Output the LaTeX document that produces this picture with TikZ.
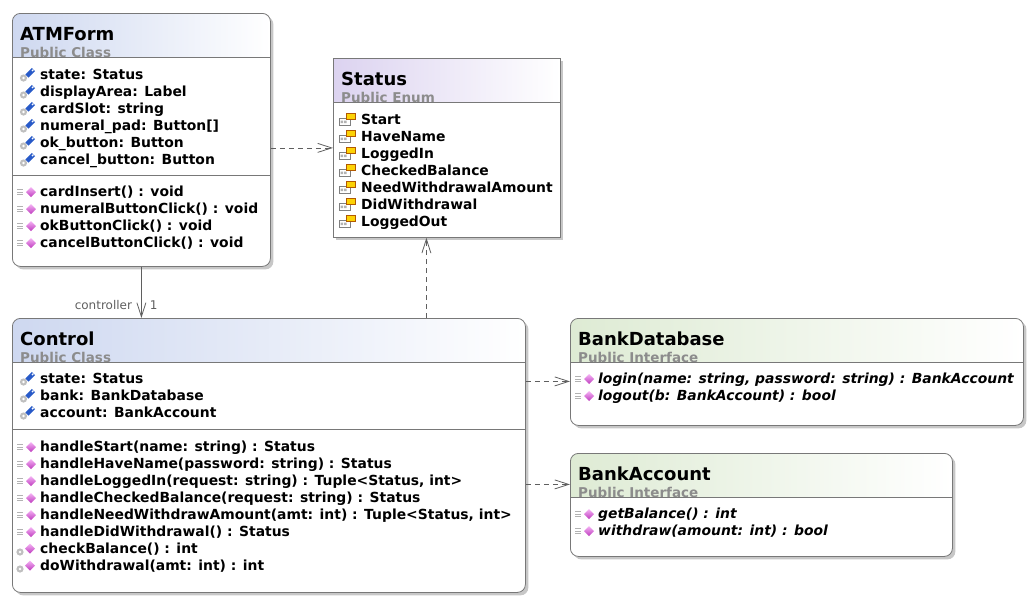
\documentclass[tikz,border=0pt]{standalone}
\usepackage{xcolor}
\usepackage{fontspec}
\setmainfont{DejaVu Sans}
\usepackage{tikz}
\usetikzlibrary{arrows.meta,positioning,shadows}

\definecolor{boxline}{RGB}{120,120,120}
\definecolor{linkgray}{RGB}{95,95,95}
\definecolor{kindgray}{RGB}{140,140,140}
\definecolor{clshead}{RGB}{206,216,240}
\definecolor{enumhead}{RGB}{220,211,240}
\definecolor{ifhead}{RGB}{222,235,212}
\definecolor{fieldblue}{RGB}{40,90,200}
\definecolor{methpink}{RGB}{190,60,190}
\definecolor{methlight}{RGB}{245,180,245}

\newcommand{\titlefont}{\fontsize{18}{20}\selectfont\bfseries}
\newcommand{\kindfont}{\fontsize{13.5}{16}\selectfont\bfseries}
\newcommand{\memberfont}{\fontsize{13.9}{17}\selectfont\bfseries}
\newcommand{\linkfont}{\fontsize{12}{14}\selectfont}

\tikzset{
  fieldicon/.pic={
    \fill[gray!50] (-4.5,3) circle (3.6);
    \fill[white] (-4.5,3) circle (1.3);
    \draw[line width=4.4pt, fieldblue] (-1,1) -- (5.5,-5.5);
    \draw[line width=1.4pt, white] (4,-4) -- (5.5,-5.5);
  },
  methodicon/.pic={
    \foreach \d in {-2.4,0,2.4}
      \draw[gray!60, line width=0.9pt] (-11,\d) -- (-5,\d);
    \shade[top color=methlight, bottom color=methpink] (3,-5) -- (8,0) -- (3,5) -- (-2,0) -- cycle;
  },
  privicon/.pic={
    \fill[gray!50] (-8,3) circle (3.6);
    \fill[white] (-8,3) circle (1.3);
    \shade[top color=methlight, bottom color=methpink] (2,-5.5) -- (7,-0.5) -- (2,4.5) -- (-3,-0.5) -- cycle;
  },
  enumicon/.pic={
    \draw[gray, fill=white, line width=0.7pt] (-10,-1) rectangle (1.5,5.5);
    \fill[gray!60] (-8.5,1) rectangle (-6,3.5) (-5,1) rectangle (-2.5,3.5);
    \draw[orange!70!black, fill=yellow!70!orange, line width=0.7pt] (-2.5,-6) rectangle (6.5,0);
  }
}

\begin{document}
\begin{tikzpicture}[x=1pt, y=-1pt,
    classbox/.style={draw=boxline, line width=0.8pt, fill=white, rounded corners=8pt,
      anchor=north west, inner sep=0pt,
      drop shadow={shadow xshift=3pt, shadow yshift=-3pt, opacity=0.22, fill=black},
      path picture={\fill[sharp corners, left color=#1, right color=white]
        (path picture bounding box.north west) rectangle
        ([yshift=-44pt]path picture bounding box.north east);}},
    enumbox/.style={classbox=#1, sharp corners},
    ctitle/.style={anchor=base west, inner sep=0pt, font=\titlefont},
    ckind/.style={anchor=base west, inner sep=0pt, font=\kindfont, text=kindgray},
    member/.style={anchor=base west, inner sep=0pt, font=\memberfont},
    abstract/.style={member, font=\memberfont\itshape},
    sepline/.style={draw=boxline, line width=0.8pt},
    dep/.style={->, >={Straight Barb[length=14pt, width=9pt]}, draw=linkgray,
      line width=0.8pt, dash pattern=on 5pt off 4pt},
    assoc/.style={->, >={Straight Barb[length=14pt, width=9pt]}, draw=linkgray, line width=0.8pt},
    linklabel/.style={font=\linkfont, text=linkgray, inner sep=1pt}]

    \useasboundingbox (0,0) rectangle (1035,603);

    \node[classbox=clshead, minimum width=258pt, minimum height=253pt] (atmform) at (12,13) {};
    \node[enumbox=enumhead, minimum width=227pt, minimum height=179pt] (status) at (333,58) {};
    \node[classbox=clshead, minimum width=513pt, minimum height=274pt] (control) at (12,318) {};
    \node[classbox=ifhead, minimum width=453pt, minimum height=107pt] (bankdb) at (570,318) {};
    \node[classbox=ifhead, minimum width=382pt, minimum height=103pt] (bankacc) at (570,453) {};

    \node[ctitle] (atmform-title) at (20,40.5) {ATMForm};
    \node[ckind] (atmform-kind) at (20,57) {Public Class};
    \draw[sepline] ([yshift=-44pt]atmform.north west) -- ([yshift=-44pt]atmform.north east);
    \draw[sepline] ([yshift=-162pt]atmform.north west) -- ([yshift=-162pt]atmform.north east);
    \foreach \txt [count=\i from 0] in {state: Status, displayArea: Label, cardSlot: string,
        numeral\_pad: Button[], ok\_button: Button, cancel\_button: Button}{
      \pic at (28,75+17*\i) {fieldicon};
      \node[member] (atmform-f\i) at (40,79+17*\i) {\txt};
    }
    \foreach \txt [count=\i from 0] in {cardInsert() : void, numeralButtonClick() : void,
        okButtonClick() : void, cancelButtonClick() : void}{
      \pic at (28,192+17*\i) {methodicon};
      \node[member] (atmform-m\i) at (40,196+17*\i) {\txt};
    }

    \node[ctitle] (status-title) at (341,85.5) {Status};
    \node[ckind] (status-kind) at (341,102) {Public Enum};
    \draw[sepline] ([yshift=-44pt]status.north west) -- ([yshift=-44pt]status.north east);
    \foreach \txt [count=\i from 0] in {Start, HaveName, LoggedIn, CheckedBalance,
        NeedWithdrawalAmount, DidWithdrawal, LoggedOut}{
      \pic at (349,119.5+17*\i) {enumicon};
      \node[member] (status-v\i) at (361,124+17*\i) {\txt};
    }

    \node[ctitle] (control-title) at (20,345.5) {Control};
    \node[ckind] (control-kind) at (20,362) {Public Class};
    \draw[sepline] ([yshift=-44pt]control.north west) -- ([yshift=-44pt]control.north east);
    \draw[sepline] ([yshift=-111pt]control.north west) -- ([yshift=-111pt]control.north east);
    \foreach \txt [count=\i from 0] in {state: Status, bank: BankDatabase, account: BankAccount}{
      \pic at (28,379+17*\i) {fieldicon};
      \node[member] (control-f\i) at (40,383+17*\i) {\txt};
    }
    \foreach \txt [count=\i from 0] in {handleStart(name: string) : Status,
        handleHaveName(password: string) : Status,
        {handleLoggedIn(request: string) : Tuple<Status, int>},
        handleCheckedBalance(request: string) : Status,
        {handleNeedWithdrawAmount(amt: int) : Tuple<Status, int>},
        handleDidWithdrawal() : Status}{
      \pic at (28,447+17*\i) {methodicon};
      \node[member] (control-m\i) at (40,451+17*\i) {\txt};
    }
    \foreach \txt [count=\i from 6] in {checkBalance() : int, doWithdrawal(amt: int) : int}{
      \pic at (28,447+17*\i) {privicon};
      \node[member] (control-m\i) at (40,451+17*\i) {\txt};
    }

    \node[ctitle] (bankdb-title) at (578,345.5) {BankDatabase};
    \node[ckind] (bankdb-kind) at (578,362) {Public Interface};
    \draw[sepline] ([yshift=-44pt]bankdb.north west) -- ([yshift=-44pt]bankdb.north east);
    \foreach \txt [count=\i from 0] in {{login(name: string, password: string) : BankAccount},
        logout(b: BankAccount) : bool}{
      \pic at (586,379+17*\i) {methodicon};
      \node[abstract] (bankdb-m\i) at (598,383+17*\i) {\txt};
    }

    \node[ctitle] (bankacc-title) at (578,480.5) {BankAccount};
    \node[ckind] (bankacc-kind) at (578,497) {Public Interface};
    \draw[sepline] ([yshift=-44pt]bankacc.north west) -- ([yshift=-44pt]bankacc.north east);
    \foreach \txt [count=\i from 0] in {getBalance() : int, withdraw(amount: int) : bool}{
      \pic at (586,514+17*\i) {methodicon};
      \node[abstract] (bankacc-m\i) at (598,518+17*\i) {\txt};
    }

    \draw[dep] (atmform.east |- status.west) -- (status.west);
    \draw[dep] ([xshift=-20.5pt]status.south |- control.north) -- ([xshift=-20.5pt]status.south);
    \draw[dep] ([yshift=-9.5pt]bankdb.west -| control.east) -- ([yshift=-9.5pt]bankdb.west);
    \draw[dep] ([yshift=20.5pt]bankacc.west -| control.east) -- ([yshift=20.5pt]bankacc.west);
    \draw[assoc] (atmform.south) --
      node[linklabel, pos=0.75, left=8pt] (ctrl-role) {controller}
      node[linklabel, pos=0.75, right=7pt] (ctrl-mult) {1}
      (atmform.south |- control.north);
\end{tikzpicture}
\end{document}
